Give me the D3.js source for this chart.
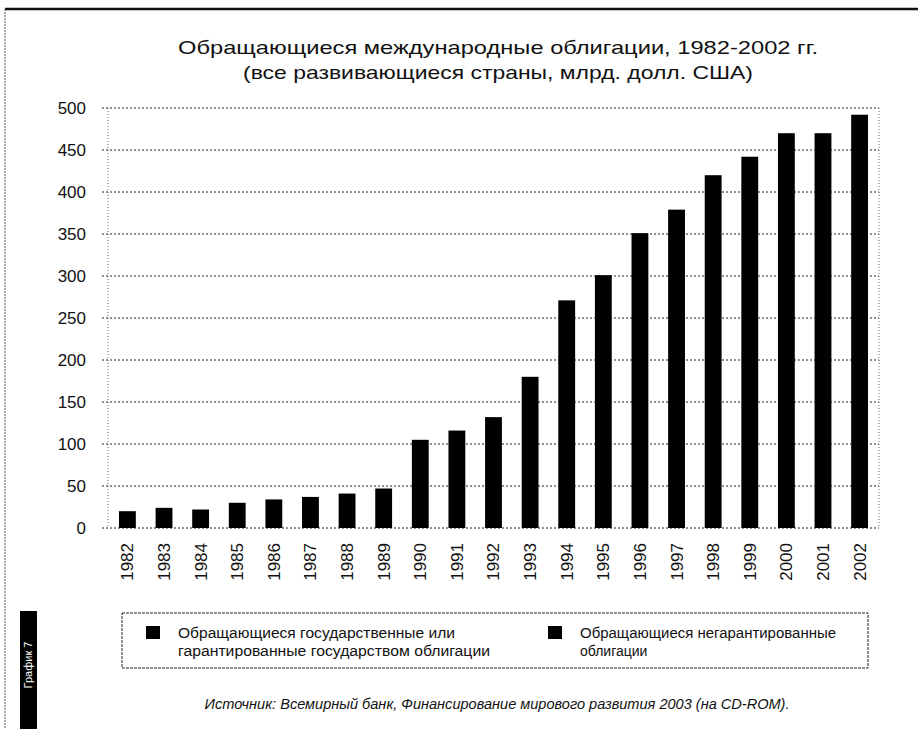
<!DOCTYPE html>
<html><head><meta charset="utf-8">
<script src="https://cdn.jsdelivr.net/npm/d3@7/dist/d3.min.js"></script>
<style>
html,body{margin:0;padding:0;background:#fff;}
svg{display:block;font-family:"Liberation Sans",Arial,sans-serif;}
</style></head>
<body>
<script>
const years = ["1982","1983","1984","1985","1986","1987","1988","1989","1990","1991","1992","1993","1994","1995","1996","1997","1998","1999","2000","2001","2002"];
const values = [20,24,22,30,34,37,41,47,105,116,132,180,271,301,351,379,420,442,470,470,492];
const yTicks = [0,50,100,150,200,250,300,350,400,450,500];
const titleLines = ["Обращающиеся международные облигации, 1982-2002 гг.","(все развивающиеся страны, млрд. долл. США)"];
const legendItems = [
  ["Обращающиеся государственные или","гарантированные государством облигации"],
  ["Обращающиеся негарантированные","облигации"]
];
const sourceText = "Источник: Всемирный банк, Финансирование мирового развития 2003 (на CD-ROM).";
const sideLabel = "График 7";

const titleWidths = [640, 510];
const legendWidths = [[277, 312], [256, null]];

const W = 918, H = 729;
const svg = d3.select("body").append("svg").attr("width", W).attr("height", H);

// page frame
svg.append("line").attr("x1",5).attr("x2",918).attr("y1",9).attr("y2",9).attr("stroke","#111").attr("stroke-width",2.5);
svg.append("line").attr("x1",5).attr("x2",5).attr("y1",9).attr("y2",729).attr("stroke","#555").attr("stroke-width",1).attr("stroke-dasharray","2,1");

// title
svg.append("g").selectAll("text").data(titleLines).join("text")
  .attr("x", 498).attr("y",(d,i)=>54+i*25).attr("text-anchor","middle")
  .attr("font-size",19).attr("fill","#111")
  .attr("textLength",(d,i)=>titleWidths[i]).attr("lengthAdjust","spacingAndGlyphs")
  .text(d=>d);

const pLeft = 108, pRight = 879, pTop = 108, pBottom = 528;
const x = d3.scaleBand().domain(years).range([pLeft,pRight]).paddingInner(0.54).paddingOuter(0.3);
const y = d3.scaleLinear().domain([0,500]).range([pBottom,pTop]);

// gridlines
svg.append("g").selectAll("line").data(yTicks).join("line")
  .attr("x1",pLeft-6).attr("x2",pRight).attr("y1",d=>y(d)).attr("y2",d=>y(d))
  .attr("stroke","#222").attr("stroke-width",1).attr("stroke-dasharray","2,2");
// plot side borders
svg.append("line").attr("x1",pLeft).attr("x2",pLeft).attr("y1",pTop).attr("y2",pBottom)
  .attr("stroke","#666").attr("stroke-dasharray","1,2");
svg.append("line").attr("x1",pRight).attr("x2",pRight).attr("y1",pTop).attr("y2",pBottom)
  .attr("stroke","#666").attr("stroke-dasharray","1,2");

// y axis labels
const yAxis = d3.axisLeft(y).tickValues(yTicks).tickSize(0).tickPadding(0);
const ya = svg.append("g").attr("transform",`translate(${pLeft-22},0)`).call(yAxis);
ya.select(".domain").remove();
ya.selectAll("text").attr("font-size",17).attr("fill","#111").attr("font-family","Liberation Sans, Arial, sans-serif");

// bars
svg.append("g").selectAll("rect").data(years).join("rect")
  .attr("x",d=>x(d)).attr("width",x.bandwidth())
  .attr("y",(d,i)=>y(values[i])).attr("height",(d,i)=>y(0)-y(values[i]))
  .attr("fill","#000");

// x axis labels
const xAxis = d3.axisBottom(x).tickSize(0).tickPadding(0);
const xa = svg.append("g").attr("transform",`translate(0,${pBottom})`).call(xAxis);
xa.select(".domain").remove();
xa.selectAll("text").attr("font-size",17).attr("fill","#111").attr("font-family","Liberation Sans, Arial, sans-serif")
  .attr("transform","rotate(-90)").attr("text-anchor","end").attr("x",-15).attr("y",0).attr("dy","0.35em");

// legend
const lg = svg.append("g");
lg.append("rect").attr("x",122).attr("y",613).attr("width",746).attr("height",55)
  .attr("fill","none").attr("stroke","#222").attr("stroke-width",1).attr("stroke-dasharray","3,1");
const lx = [146, 548];
legendItems.forEach((lines,i)=>{
  lg.append("rect").attr("x",lx[i]).attr("y",626).attr("width",14).attr("height",13).attr("fill","#000");
  lg.append("g").selectAll("text").data(lines).join("text")
    .attr("x",lx[i]+32).attr("y",(d,j)=>638+j*18).attr("font-size",14).attr("fill","#111")
    .attr("textLength",(d,j)=>legendWidths[i][j]).attr("lengthAdjust",(d,j)=>legendWidths[i][j]?"spacingAndGlyphs":null)
    .text(d=>d);
});

// source
svg.append("text").attr("x",497).attr("y",709).attr("text-anchor","middle")
  .attr("font-size",14).attr("font-style","italic").attr("fill","#111")
  .attr("textLength",585).attr("lengthAdjust","spacingAndGlyphs").text(sourceText);

// side black tab
svg.append("rect").attr("x",20).attr("y",611).attr("width",17).attr("height",118).attr("fill","#000");
svg.append("text").attr("transform","translate(32,665) rotate(-90)").attr("text-anchor","middle")
  .attr("font-size",11).attr("fill","#fff").text(sideLabel);
</script>
</body></html>
